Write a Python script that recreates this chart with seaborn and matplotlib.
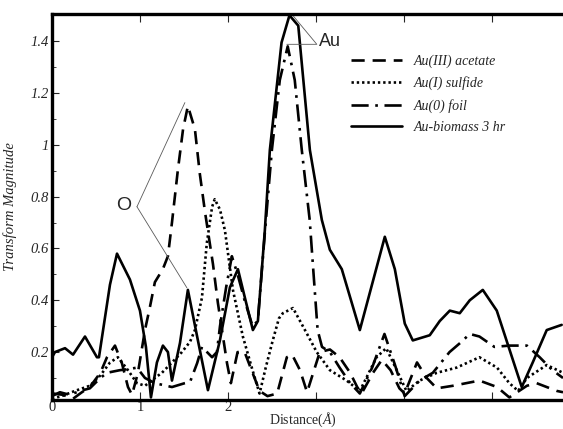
import numpy as np
import pandas as pd
import matplotlib
matplotlib.use("Agg")
import matplotlib.pyplot as plt
from matplotlib.ticker import MultipleLocator, FixedLocator
import seaborn as sns

# --- data (distance in Angstrom, transform magnitude) ---
acetate_x = [0.01, 0.125, 0.24, 0.34, 0.43, 0.55, 0.625, 0.716, 0.795, 0.864, 0.91, 0.977,
             1.057, 1.114, 1.17, 1.26, 1.318, 1.364, 1.43, 1.49, 1.545, 1.625, 1.68, 1.74,
             1.83, 1.886, 1.99, 2.034, 2.11, 2.19, 2.28, 2.36, 2.45, 2.56, 2.67, 2.73, 2.82,
             2.9, 2.97, 3.045, 3.16, 3.27, 3.39, 3.47, 3.52, 3.65, 3.75, 3.85, 3.95, 4.01,
             4.15, 4.26, 4.375, 4.56, 4.86, 5.06, 5.2, 5.4, 5.51, 5.74, 5.81]
acetate_y = [0.04, 0.035, 0.02, 0.045, 0.065, 0.12, 0.18, 0.225, 0.157, 0.065, 0.035, 0.12,
             0.285, 0.375, 0.47, 0.52, 0.57, 0.7, 0.9, 1.06, 1.15, 1.06, 0.89, 0.74,
             0.54, 0.39, 0.157, 0.08, 0.2, 0.2, 0.12, 0.05, 0.03, 0.04, 0.18, 0.19, 0.13,
             0.045, 0.12, 0.2, 0.21, 0.18, 0.12, 0.065, 0.04, 0.12, 0.17, 0.13, 0.06, 0.04,
             0.16, 0.1, 0.06, 0.07, 0.09, 0.065, 0.025, 0.07, 0.08, 0.05, 0.045]

sulfide_x = [0.0, 0.11, 0.26, 0.43, 0.55, 0.66, 0.75, 0.864, 0.966, 1.057, 1.17, 1.25, 1.364,
             1.477, 1.57, 1.625, 1.705, 1.76, 1.82, 1.85, 1.91, 1.966, 2.057, 2.17, 2.28,
             2.36, 2.43, 2.51, 2.58, 2.625, 2.74, 2.9, 3.01, 3.16, 3.35, 3.5, 3.69, 3.8,
             3.92, 4.03, 4.18, 4.375, 4.6, 4.86, 5.06, 5.2, 5.3, 5.4, 5.625, 5.81]
sulfide_y = [0.02, 0.03, 0.05, 0.07, 0.11, 0.16, 0.18, 0.13, 0.08, 0.07, 0.1, 0.12, 0.16,
             0.2, 0.24, 0.285, 0.41, 0.62, 0.76, 0.79, 0.75, 0.67, 0.44, 0.26, 0.13,
             0.04, 0.14, 0.245, 0.33, 0.35, 0.37, 0.27, 0.2, 0.13, 0.09, 0.05, 0.18, 0.215,
             0.13, 0.05, 0.09, 0.12, 0.14, 0.18, 0.14, 0.08, 0.05, 0.1, 0.15, 0.12]

foil_x = [0.0, 0.09, 0.2, 0.32, 0.43, 0.55, 0.625, 0.77, 0.886, 0.966, 1.057, 1.17, 1.364,
          1.51, 1.57, 1.65, 1.705, 1.82, 1.875, 1.91, 1.98, 2.045, 2.11, 2.19, 2.28, 2.34,
          2.42, 2.5, 2.59, 2.68, 2.76, 2.84, 2.93, 2.97, 3.02, 3.07, 3.16, 3.27, 3.39, 3.5,
          3.64, 3.78, 3.9, 4.01, 4.18, 4.33, 4.52, 4.64, 4.75, 4.86, 5.03, 5.2, 5.4, 5.545,
          5.69, 5.81]
foil_y = [0.03, 0.045, 0.035, 0.05, 0.06, 0.1, 0.12, 0.13, 0.135, 0.14, 0.1, 0.08, 0.065,
          0.08, 0.085, 0.157, 0.22, 0.18, 0.2, 0.3, 0.45, 0.57, 0.5, 0.4, 0.3, 0.32,
          0.66, 0.98, 1.25, 1.38, 1.25, 0.98, 0.71, 0.52, 0.285, 0.22, 0.2, 0.14, 0.08, 0.04,
          0.14, 0.27, 0.15, 0.03, 0.09, 0.12, 0.2, 0.235, 0.27, 0.26, 0.22, 0.225, 0.225, 0.18,
          0.13, 0.1]

biomass_x = [0.0, 0.034, 0.148, 0.239, 0.375, 0.511, 0.534, 0.659, 0.739, 0.886, 1.0, 1.068,
             1.125, 1.193, 1.261, 1.318, 1.364, 1.455, 1.545, 1.659, 1.773, 1.909, 2.023,
             2.114, 2.193, 2.284, 2.341, 2.42, 2.477, 2.61, 2.70, 2.8, 2.932, 3.068, 3.159,
             3.295, 3.5, 3.784, 3.898, 4.011, 4.102, 4.295, 4.409, 4.523, 4.636, 4.75, 4.898,
             5.057, 5.341, 5.466, 5.625, 5.795]
biomass_y = [0.18, 0.2, 0.215, 0.19, 0.26, 0.18, 0.18, 0.46, 0.58, 0.48, 0.36, 0.22,
             0.025, 0.16, 0.225, 0.2, 0.09, 0.235, 0.44, 0.245, 0.053, 0.245, 0.45,
             0.52, 0.41, 0.285, 0.32, 0.67, 0.98, 1.395, 1.5, 1.46, 0.98, 0.71, 0.595,
             0.52, 0.285, 0.645, 0.52, 0.31, 0.245, 0.265, 0.32, 0.36, 0.35, 0.40, 0.44,
             0.36, 0.065, 0.16, 0.285, 0.305]

series_names = ["Au(III) acetate", "Au(I) sulfide", "Au(0) foil", "Au-biomass 3 hr"]
y_ticks = [0.2, 0.4, 0.6, 0.8, 1.0, 1.2, 1.4]
y_tick_labels = ["0.2", "0.4", "0.6", "0.8", "1", "1.2", "1.4"]
x_ticks = [0, 1, 2, 3, 4, 5]
x_tick_labels = ["0", "1", "2", "", "", ""]

sns.set_style("white")
plt.rcParams["font.family"] = ["Liberation Serif", "DejaVu Serif"]
plt.rcParams["mathtext.fontset"] = "custom"
plt.rcParams["mathtext.it"] = "Liberation Serif:italic"
plt.rcParams["mathtext.rm"] = "Liberation Serif"

fig = plt.figure(figsize=(5.63, 4.29), dpi=100)
ax = fig.add_axes([52 / 563, 29 / 429, 511 / 563, 386 / 429])

styles = [(0, (5, 3)), (0, (0.9, 1.1)), (0, (6.5, 2.5, 1, 2.5)), "-"]
data = [(acetate_x, acetate_y), (sulfide_x, sulfide_y), (foil_x, foil_y), (biomass_x, biomass_y)]
for (xs, ys), name, ls in zip(data, series_names, styles):
    df = pd.DataFrame({"x": xs, "y": ys})
    sns.lineplot(data=df, x="x", y="y", ax=ax, color="black", linewidth=1.9,
                 linestyle=ls, label=name, sort=False, estimator=None)

ax.set_xlim(0, 5.81)
ax.set_ylim(0.015, 1.505)

# frame: thick left / bottom / top, right side cut off
for side in ["left", "bottom", "top"]:
    ax.spines[side].set_linewidth(2.4)
    ax.spines[side].set_color("black")
ax.spines["right"].set_visible(False)

ax.xaxis.set_major_locator(FixedLocator(x_ticks))
ax.set_xticklabels(x_tick_labels)
ax.set_yticks(y_ticks)
ax.set_yticklabels(y_tick_labels, style="italic")
ax.yaxis.set_minor_locator(MultipleLocator(0.1))
ax.tick_params(axis="x", which="major", direction="in", top=True, bottom=True,
               length=6, width=0.8, labelsize=10.5, pad=1)
ax.tick_params(axis="y", which="major", direction="in", left=True, length=5, width=0.8,
               labelsize=10.5, pad=2)
ax.tick_params(axis="y", which="minor", direction="in", left=True, length=3, width=0.6)

ax.set_xlabel(r"Distance($\mathit{Å}$)", fontsize=10)
ax.xaxis.set_label_coords(0.49, -0.028)
ax.xaxis.label.set_va("top")
ax.set_ylabel("Transform Magnitude", fontsize=10.5, style="italic")
ax.yaxis.set_label_coords(-0.068, 0.5)

leg = ax.legend(loc="upper left", bbox_to_anchor=(0.585, 0.895), frameon=False,
                handlelength=3.7, handletextpad=0.8, labelspacing=0.6,
                borderpad=0, borderaxespad=0,
                prop={"family": "Liberation Serif", "style": "italic", "size": 10})

# annotation lines
ax.plot([0.966, 1.511], [0.761, 1.163], color="0.35", linewidth=0.6)
ax.plot([0.966, 1.534], [0.761, 0.448], color="0.35", linewidth=0.6)
ax.text(0.9, 0.765, "O", fontsize=14, family="Liberation Sans", ha="right", va="center")

ax.plot([2.727, 3.011, 2.67], [1.504, 1.388, 1.388], color="0.35", linewidth=0.6,
        clip_on=False)
ax.text(3.03, 1.40, "Au", fontsize=13, family="Liberation Sans", ha="left", va="center")

fig.savefig("out.png", dpi=100)
